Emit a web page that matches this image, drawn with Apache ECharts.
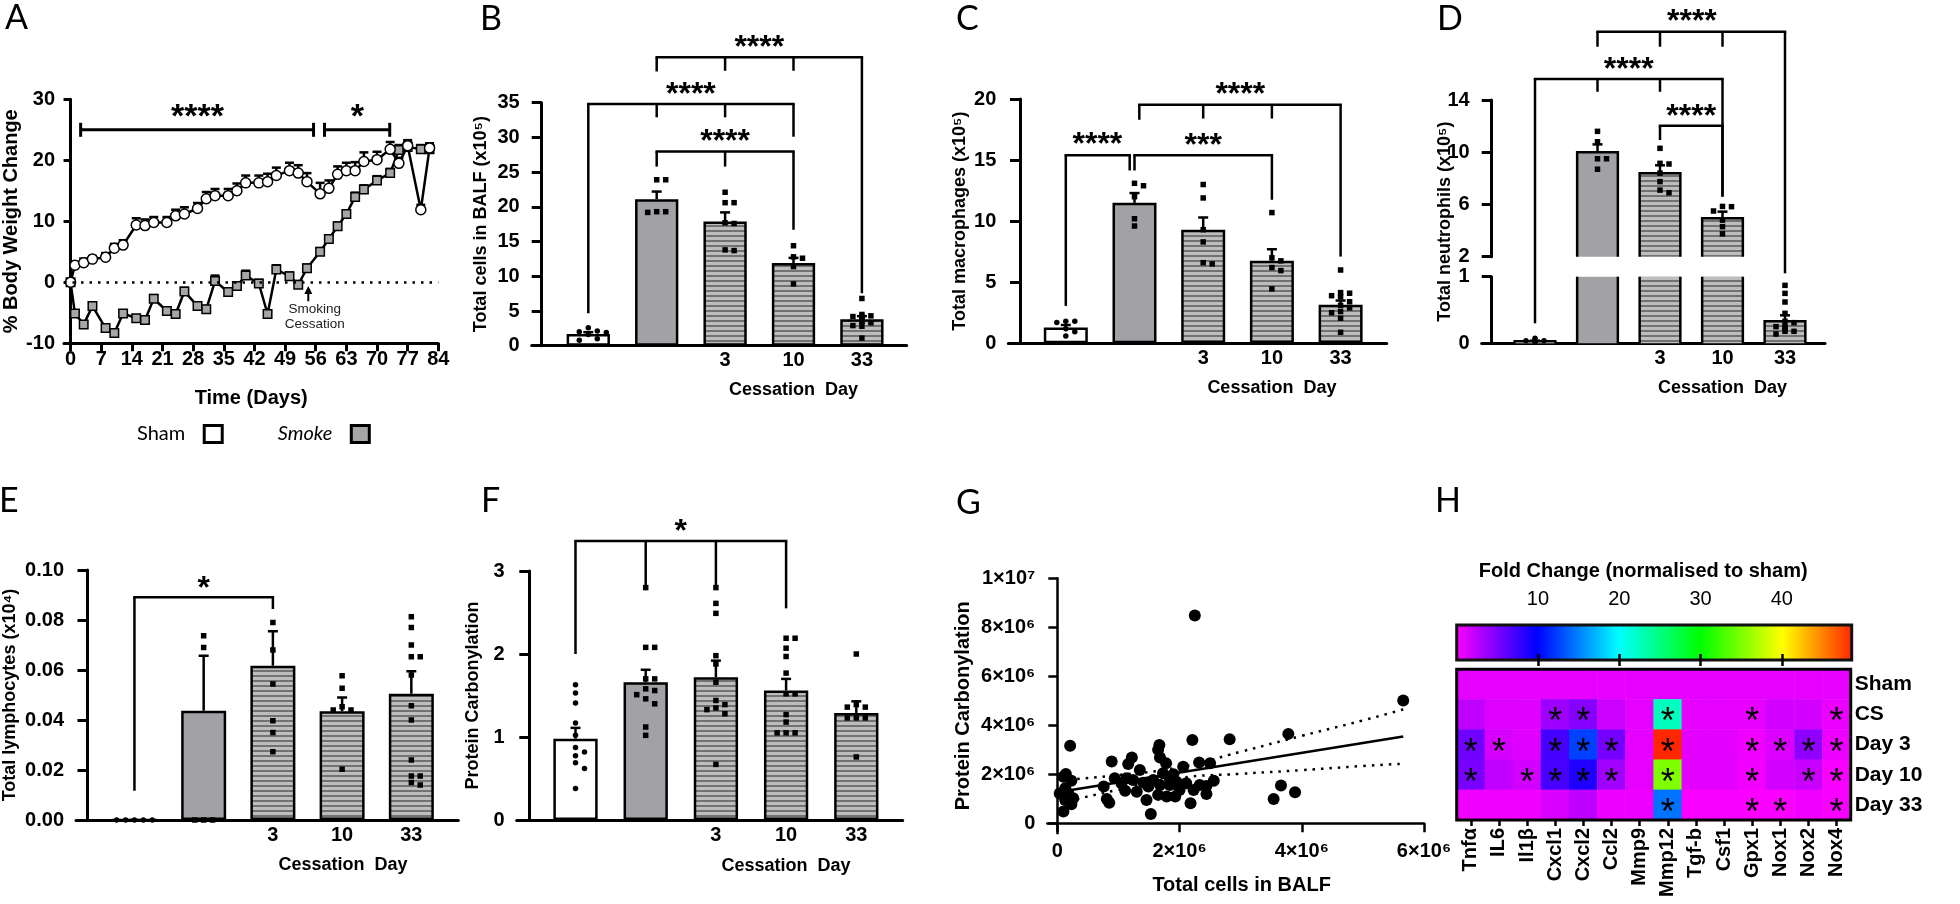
<!DOCTYPE html>
<html><head><meta charset="utf-8">
<script src="https://cdn.jsdelivr.net/npm/echarts@6/dist/echarts.min.js"></script>
<style>html,body{margin:0;padding:0;background:#fff}#main{width:1960px;height:904px}</style>
</head><body><div id="main"></div>
<script>
// ================= DATA =================
// Panel A : body weight change
const weightDays = [0,1,3,5,8,10,12,15,17,19,22,24,26,29,31,33,36,38,40,43,45,47,50,52,54,57,59,61,63,65,67,70,73,75,77,80,82];
const shamWeight = [0,2.8,3.2,3.8,4.1,5.6,6.1,9.4,9.3,9.8,9.8,10.9,11.2,12.1,13.7,14.2,14.2,15.0,16.3,16.3,16.5,17.5,18.3,17.9,16.5,14.5,15.4,17.7,18.3,18.3,19.8,20.1,21.8,19.5,22.4,11.9,22.0];
const shamWeightSem = [0,0.3,0.7,0.5,0.7,0.7,0.8,1.1,1.0,0.9,0.9,1.0,1.1,0.9,1.1,1.1,1.1,1.2,1.2,1.2,1.3,1.3,1.3,1.3,1.4,1.8,1.3,1.3,1.3,1.4,1.5,1.3,1.2,0.9,0.9,0.8,0.8];
const smokeWeight = [0,-5.1,-6.9,-3.9,-7.5,-8.3,-5.1,-5.9,-6.2,-2.7,-4.7,-5.2,-1.5,-3.9,-4.4,0.2,-1.6,-0.6,1.1,-0.2,-5.2,2.1,1.0,-0.4,2.3,5.0,7.1,9.2,11.2,14.0,15.2,16.7,17.9,21.7,22.2,21.8,21.8];
const smokeWeightSem = [0,0.4,0.4,0.5,0.4,0.4,0.5,0.5,0.5,0.6,0.5,0.5,0.6,0.5,0.5,0.9,0.6,0.6,0.8,0.6,0.5,0.7,0.6,0.6,0.6,0.6,0.6,0.6,0.6,0.7,0.7,0.7,0.7,0.8,0.8,0.7,0.7];
const dayTicks = [0,7,14,21,28,35,42,49,56,63,70,77,84];

// group labels (Sham, Smoke, cessation day 3, 10, 33)
const groupLabels = ['', '', '3', '10', '33'];

// Panel B : total cells in BALF (x10^5)
const bMeans = [1.7, 21.1, 17.9, 11.9, 3.8];
const bSem = [0.25, 1.1, 1.3, 0.75, 0.45];
const bSham = [2.6, 2.1, 2.0, 1.9, 1.6, 0.8, 1.0];
const bSmoke = [23.9, 23.9, 19.3, 19.3, 19.2];
const bDay3 = [22.1, 20.6, 20.6, 17.7, 17.6, 13.8, 13.7];
const bDay10 = [14.4, 12.8, 12.6, 11.4, 8.9];
const bDay33 = [6.8, 4.3, 4.2, 4.2, 4.1, 4.5, 3.6, 3.5, 3.3, 2.9, 2.8, 1.1];

// Panel C : total macrophages (x10^5)
const cMeans = [1.3, 11.5, 9.3, 6.75, 3.15];
const cSem = [0.2, 0.8, 1.0, 0.95, 0.35];
const cSham = [1.8, 1.8, 1.7, 1.2, 0.95, 0.6];
const cSmoke = [13.1, 12.9, 12.0, 10.2, 9.6];
const cDay3 = [13.0, 11.9, 9.3, 8.3, 6.5, 6.6];
const cDay10 = [10.7, 7.0, 6.75, 6.2, 5.95, 4.45];
const cDay33 = [6.0, 4.15, 4.1, 3.9, 3.8, 3.4, 3.1, 2.9, 2.5, 2.05, 0.9, 2.6];

// Panel D : total neutrophils (x10^5)
const dMeans = [0.03, 10.0, 8.4, 4.95, 0.33];
const dSem = [0.01, 0.6, 0.6, 0.5, 0.09];
const dSham = [0.075, 0.04, 0.04, 0.035, 0.03, 0.02];
const dSmoke = [11.6, 10.8, 9.5, 9.5, 8.7];
const dDay3 = [10.3, 9.15, 9.1, 8.4, 7.75, 7.1, 6.9];
const dDay10 = [5.85, 5.83, 5.5, 4.8, 4.3, 3.75];
const dDay33 = [0.87, 0.75, 0.62, 0.45, 0.33, 0.31, 0.25, 0.25, 0.22, 0.18, 0.18, 0.14];

// Panel E : total lymphocytes (x10^4)
const eMeans = [0, 0.0437, 0.0617, 0.0435, 0.0505];
const eSem = [0, 0.022, 0.0138, 0.0055, 0.009];
const eSham = [0, 0, 0, 0, 0];
const eSmoke = [0.0737, 0.069, 0, 0, 0];
const eDay3 = [0.079, 0.068, 0.0544, 0.0397, 0.035, 0.0273];
const eDay10 = [0.0577, 0.0527, 0.0453, 0.044, 0.044, 0.0203];
const eDay33 = [0.0813, 0.077, 0.07, 0.0653, 0.0653, 0.058, 0.0457, 0.04, 0.024, 0.0176, 0.0176, 0.015, 0.014];

// Panel F : protein carbonylation
const fMeans = [0.98, 1.66, 1.72, 1.56, 1.29];
const fSem = [0.13, 0.15, 0.2, 0.14, 0.14];
const fSham = [1.63, 1.53, 1.41, 1.17, 1.02, 0.875, 0.82, 0.775, 0.69, 0.62, 0.38];
const fSmoke = [2.8, 2.08, 2.08, 1.7, 1.7, 1.58, 1.56, 1.51, 1.46, 1.4, 1.12, 1.02];
const fDay3 = [2.8, 2.61, 2.49, 1.98, 1.88, 1.66, 1.44, 1.35, 1.39, 1.33, 1.28, 0.67];
const fDay10 = [2.19, 2.19, 2.07, 1.97, 1.77, 1.52, 1.52, 1.27, 1.18, 1.05, 1.05, 1.05];
const fDay33 = [2.0, 1.39, 1.36, 1.36, 1.23, 1.23, 1.23, 0.76];

// Panel G : correlation (values in millions)
const gCellsM = [2.25,5.66,3.78,2.82,2.21,1.67,0.21,1.65,1.22,0.89,1.16,1.68,1.78,2.32,2.50,2.06,1.35,0.14,1.73,1.90,0.94,1.13,2.56,0.23,0.10,1.57,1.95,2.11,1.41,1.68,1.84,2.33,2.44,0.76,1.49,1.11,1.30,0.13,3.66,0.04,2.44,1.65,1.79,1.93,0.26,0.13,0.81,0.85,1.46,3.89,3.54,2.18,0.23,0.10,1.53,0.18,1.24,1.84,1.05,2.23,2.00];
const gCarbonylM = [8.48,5.01,3.65,3.43,3.40,3.20,3.17,3.00,2.69,2.52,2.42,2.69,2.45,2.48,2.45,2.31,2.18,2.01,2.04,2.00,1.84,1.84,1.74,1.74,1.90,1.77,1.70,1.63,1.66,1.56,1.56,1.56,1.52,1.50,1.50,1.33,1.29,1.43,1.54,1.22,1.20,1.16,1.09,1.09,1.02,0.95,0.99,0.84,0.95,1.27,0.99,0.82,0.78,0.48,0.38,1.22,1.77,1.84,1.63,1.36,1.36];
const gFitXM = [0.05, 5.66];
const gFitYM = [1.29, 3.54];
const gBandXM = [0.05, 1, 2, 3, 4, 5, 5.66];
const gBandUpperM = [1.75, 1.97, 2.29, 2.92, 3.57, 4.20, 4.65];
const gBandLowerM = [0.83, 1.37, 1.85, 2.02, 2.17, 2.34, 2.43];
const gXTicks = [0, 2e6, 4e6, 6e6];
const gYTicks = [0, 2e6, 4e6, 6e6, 8e6, 1e7];

// Panel H : heatmap fold change
const hGenes = ['Tnfα','IL6','Il1β','Cxcl1','Cxcl2','Ccl2','Mmp9','Mmp12','Tgf-b','Csf1','Gpx1','Nox1','Nox2','Nox4'];
const hRows = ['Sham','CS','Day 3','Day 10','Day 33'];
const hSham  = [1,1,1,1,1,1,1,1,1,1,1,1,1,1];
const hCS    = [2.5,1.3,1.2,3.8,4.8,2.0,1.0,22.5,1.0,1.0,0.9,1.8,1.7,0.8];
const hDay3  = [5.6,1.6,1.2,7.3,12.5,5.4,1.0,48.5,1.1,1.1,0.6,1.4,4.4,0.7];
const hDay10 = [5.3,2.4,1.8,7.2,8.8,3.7,1.0,35,1.1,1.1,0.5,1.8,2.2,0.3];
const hDay33 = [0.6,0.6,0.5,1.5,2.6,0.7,0.7,14.5,0.2,0.3,0.2,0.2,0.6,0.3];
const hSigSham  = [0,0,0,0,0,0,0,0,0,0,0,0,0,0];
const hSigCS    = [0,0,0,1,1,0,0,1,0,0,1,0,0,1];
const hSigDay3  = [1,1,0,1,1,1,0,1,0,0,1,1,1,1];
const hSigDay10 = [1,0,1,1,1,1,0,1,0,0,1,0,1,1];
const hSigDay33 = [0,0,0,0,0,0,0,1,0,0,1,1,0,1];
const hColorTicks = [10, 20, 30, 40];

// ================= ANNOTATIONS (significance brackets, data units) =================
const aBrackets = [
  {from: 2.3, to: 55.5, y: 25.0, text: '****', tx: 29, ty: 28.3},
  {from: 58.0, to: 72.9, y: 25.0, text: '*', tx: 65.5, ty: 28.3}
];
const aArrow = {day: 54.3, from: -3.1, to: -0.6, text: 'Smoking\nCessation', tx: 55.8, ty: -5.7};
const bBrackets = [
  {y: 41.55, legs: [[1,39.5],[2,39.6],[3,39.6],[4,7.55]], text: '****', tx: 2.5, ty: 43.8},
  {y: 34.8, legs: [[0,4.67],[1,32.9],[2,32.9],[3,30.1]], text: '****', tx: 1.5, ty: 37.1},
  {y: 27.96, legs: [[1,25.8],[2,25.8],[3,16.7]], text: '****', tx: 2.0, ty: 30.4}
];
const cBrackets = [
  {y: 19.53, legs: [[1.07,18.3],[2,18.4],[3,18.4],[4,7.1]], text: '****', tx: 2.54, ty: 20.9},
  {y: 15.4, legs: [[0,3.06],[0.93,14.15]], text: '****', tx: 0.46, ty: 16.8},
  {y: 15.4, legs: [[1.0,14.15],[3,11.75]], text: '***', tx: 2.0, ty: 16.7}
];
const dBrackets = [
  {y: 19.23, legs: [[1,18.08],[2,18.08],[3,18.08],[4,0.73]], text: '****', tx: 2.51, ty: 20.5},
  {y: 15.6, legs: [[0,-3.1],[1,14.63],[2,14.63],[3,6.6]], text: '****', tx: 1.5, ty: 16.8},
  {y: 12.03, legs: [[2,10.93],[3,6.6]], text: '****', tx: 2.5, ty: 13.23}
];
const eBrackets = [{y: 0.0891, legs: [[0,0.0117],[2,0.0844]], text: '*', tx: 1.0, ty: 0.0953}];
const fBrackets = [{y: 3.36, legs: [[0,2.0],[1,2.83],[2,2.83],[3,2.55]], text: '*', tx: 1.5, ty: 3.55}];

// ================= STYLE HELPERS =================
const FONT = '"Liberation Sans", Arial, Helvetica, sans-serif';
const LFONT = 'Lato, "Open Sans", sans-serif';
const K = '#000';
function stripeImg() {
  const c = document.createElement('canvas'); c.width = 8; c.height = 5;
  const g = c.getContext('2d');
  g.fillStyle = '#bdbdbd'; g.fillRect(0, 0, 8, 5);
  g.fillStyle = '#727272'; g.fillRect(0, 0, 8, 2);
  return c;
}
const STRIPE = {image: stripeImg(), repeat: 'repeat'};
const FILLS = ['#ffffff', '#a2a2a6', STRIPE, STRIPE, STRIPE];
const tickFont = {color: K, fontFamily: FONT, fontWeight: 'bold', fontSize: 20};
const titleFont = {color: K, fontFamily: FONT, fontWeight: 'bold', fontSize: 18};

function line(x1, y1, x2, y2, w) {
  return {type: 'line', shape: {x1, y1, x2, y2}, style: {stroke: K, lineWidth: w, fill: 'none'}};
}
function starText(text, x, y, size, weight) {
  return {type: 'text', x: x, y: y + 0.22 * size,
    style: {text: text, fill: K, font: (weight || 'bold') + ' ' + size + 'px ' + FONT,
      textAlign: 'center', textVerticalAlign: 'middle'}};
}
function swarm(vals, ppu, maxOff) {
  const order = vals.map((v, i) => i).sort((a, b) => vals[b] - vals[a]);
  const placed = [], off = [];
  order.forEach(i => {
    const y = vals[i] * ppu;
    let chosen = 0;
    for (let k = 0; k < 15; k++) {
      const cand = (k === 0 ? 0 : (k % 2 ? 1 : -1) * Math.ceil(k / 2)) * 9;
      if (Math.abs(cand) > maxOff) continue;
      if (placed.every(p => Math.abs(p.x - cand) >= 8 || Math.abs(p.y - y) >= 6)) { chosen = cand; break; }
    }
    off[i] = chosen; placed.push({x: chosen, y});
  });
  return off;
}

const grids = [], xAxes = [], yAxes = [], series = [];

function errSeries(gi, data, cap) {
  return {type: 'custom', xAxisIndex: gi, yAxisIndex: gi, z: 5, silent: true, data: data,
    renderItem: (params, api) => {
      const a = api.coord([api.value(0), api.value(1)]);
      const b = api.coord([api.value(0), api.value(2)]);
      return {type: 'group', children: [line(a[0], a[1], b[0], b[1], 2.5), line(b[0] - cap, b[1], b[0] + cap, b[1], 2.5)]};
    }};
}
function bracketSeries(gi, brackets, pos0, size) {
  return {type: 'custom', xAxisIndex: gi, yAxisIndex: gi, z: 6, silent: true, clip: false,
    data: brackets.map(b => [pos0 + b.legs[0][0], b.y]),
    renderItem: (params, api) => {
      const b = brackets[params.dataIndex];
      const xs = b.legs.map(l => pos0 + l[0]);
      const yl = api.coord([xs[0], b.y])[1];
      const xMin = api.coord([Math.min(...xs), b.y])[0];
      const xMax = api.coord([Math.max(...xs), b.y])[0];
      const ch = [line(xMin - 1.25, yl, xMax + 1.25, yl, 2.5)];
      b.legs.forEach((l, k) => { const p = api.coord([xs[k], l[1]]); ch.push(line(p[0], yl, p[0], p[1], 2.5)); });
      const t = api.coord([pos0 + b.tx, b.ty]);
      ch.push(starText(b.text, t[0], t[1], size));
      return {type: 'group', children: ch};
    }};
}
function cessationXAxis(gi, c, pos, showLine) {
  const target = c.yAxisX + pos[3] * c.step;
  const mid = (c.xLeft + c.xRight) / 2;
  const shift = 2 * (target - mid);
  return {gridIndex: gi, type: 'value', min: (c.xLeft - c.yAxisX) / c.step, max: (c.xRight - c.yAxisX) / c.step,
    axisLine: {show: showLine, onZero: false, lineStyle: {color: K, width: 3}},
    axisTick: {show: false}, splitLine: {show: false},
    axisLabel: showLine ? Object.assign({customValues: pos.slice(2), formatter: v => groupLabels[Math.round(v - pos[0])], margin: 5}, tickFont) : {show: false},
    name: showLine ? 'Cessation  Day' : '', nameLocation: 'middle', nameGap: c.xNameGap,
    nameTextStyle: Object.assign({}, titleFont, {padding: shift > 0 ? [0, 0, 0, shift] : [0, -shift, 0, 0]})};
}
function valueYAxis(gi, c, name) {
  return {gridIndex: gi, type: 'value', min: c.yMin, max: c.yMax, interval: c.yInterval,
    axisLine: {show: true, onZero: true, lineStyle: {color: K, width: 3}},
    axisTick: {show: true, length: 10, lineStyle: {color: K, width: 3}},
    axisLabel: Object.assign({margin: 12, formatter: c.yFmt}, tickFont),
    splitLine: {show: false},
    name: name || '', nameLocation: 'middle', nameRotate: 90, nameGap: c.yNameGap, nameTextStyle: titleFont};
}

// ================= BAR PANELS (B, C, E, F) =================
function barPanel(c) {
  const gi = grids.length;
  const pos0 = (c.bar0 - c.yAxisX) / c.step;
  const pos = c.means.map((m, i) => pos0 + i);
  const ppu = (c.yBottom - c.yTop) / (c.yMax - c.yMin);
  grids.push({left: c.xLeft, top: c.yTop, width: c.xRight - c.xLeft, height: c.yBottom - c.yTop});
  xAxes.push(cessationXAxis(gi, c, pos, true));
  yAxes.push(valueYAxis(gi, c, c.yName));
  series.push({type: 'bar', xAxisIndex: gi, yAxisIndex: gi, barWidth: c.barWidth, silent: true, z: 2,
    data: pos.map((p, i) => ({value: [p, c.means[i]], itemStyle: {color: FILLS[i]}})),
    itemStyle: {borderColor: K, borderWidth: 2.5}});
  const pts = [];
  c.points.forEach((vals, i) => {
    const off = swarm(vals, ppu, c.barWidth / 2 - (i === 0 ? 2 : 5));
    vals.forEach((v, k) => pts.push({value: [pos[i] + off[k] / c.step, v], symbol: i === 0 ? 'circle' : 'rect'}));
  });
  series.push({type: 'scatter', xAxisIndex: gi, yAxisIndex: gi, data: pts, symbolSize: 5.5, itemStyle: {color: K, opacity: 1}, z: 4, silent: true});
  series.push(errSeries(gi, pos.map((p, i) => [p, c.means[i], c.means[i] + c.sems[i]]), 5));
  series.push(bracketSeries(gi, c.brackets, pos0, 32));
}

// ================= PANEL A =================
(function panelA() {
  const gi = grids.length;
  const px0 = 68.3, pxPerDay = 4.405, xl = 61.7;
  grids.push({left: xl, top: 99.3, width: px0 + 84 * pxPerDay - xl, height: 244});
  xAxes.push({gridIndex: gi, type: 'value', min: -(px0 - xl) / pxPerDay, max: 84,
    axisLine: {onZero: false, lineStyle: {color: K, width: 3}},
    axisTick: {show: true, customValues: dayTicks, length: 8, lineStyle: {color: K, width: 3}},
    axisLabel: Object.assign({customValues: dayTicks, margin: 6}, tickFont),
    splitLine: {show: false},
    name: 'Time (Days)', nameLocation: 'middle', nameGap: 45, nameTextStyle: Object.assign({}, titleFont, {fontSize: 20})});
  yAxes.push({gridIndex: gi, type: 'value', min: -10, max: 30, interval: 10,
    axisLine: {show: true, onZero: true, lineStyle: {color: K, width: 3}},
    axisTick: {show: true, length: 7, lineStyle: {color: K, width: 3}},
    axisLabel: Object.assign({margin: 9}, tickFont),
    splitLine: {show: false},
    name: '% Body Weight Change', nameLocation: 'middle', nameRotate: 90, nameGap: 43,
    nameTextStyle: Object.assign({}, titleFont, {fontSize: 20})});
  const errData = [];
  weightDays.forEach((d, i) => {
    errData.push([d, shamWeight[i], shamWeight[i] + shamWeightSem[i]]);
    errData.push([d, smokeWeight[i], smokeWeight[i] + smokeWeightSem[i]]);
  });
  const es = errSeries(gi, errData, 4.5); es.z = 1;
  series.push(es);
  series.push({name: 'Smoke', type: 'line', xAxisIndex: gi, yAxisIndex: gi, silent: true, z: 2,
    data: weightDays.map((d, i) => [d, smokeWeight[i]]),
    symbol: 'rect', symbolSize: 8.5,
    itemStyle: {color: '#a6a6a6', borderColor: K, borderWidth: 1.5},
    lineStyle: {color: K, width: 2.5},
    markLine: {silent: true, symbol: 'none', label: {show: false},
      lineStyle: {color: K, type: [2.5, 6], width: 2.5}, data: [{yAxis: 0}]}});
  series.push({name: 'Sham', type: 'line', xAxisIndex: gi, yAxisIndex: gi, silent: true, z: 3,
    data: weightDays.map((d, i) => [d, shamWeight[i]]),
    symbol: 'circle', symbolSize: 10,
    itemStyle: {color: '#ffffff', borderColor: K, borderWidth: 1.5},
    lineStyle: {color: K, width: 2.5}});
  series.push({type: 'custom', xAxisIndex: gi, yAxisIndex: gi, z: 6, silent: true, clip: false,
    data: [[aArrow.day, aArrow.to]],
    renderItem: (params, api) => {
      const ch = [];
      aBrackets.forEach(b => {
        const l = api.coord([b.from, b.y]), r = api.coord([b.to, b.y]);
        ch.push(line(l[0], l[1], r[0], r[1], 3));
        ch.push(line(l[0], l[1] - 7, l[0], l[1] + 7, 3));
        ch.push(line(r[0], r[1] - 7, r[0], r[1] + 7, 3));
        const t = api.coord([b.tx, b.ty]);
        ch.push(starText(b.text, t[0], t[1], 34));
      });
      const a1 = api.coord([aArrow.day, aArrow.from]), a2 = api.coord([aArrow.day, aArrow.to]);
      ch.push(line(a1[0], a1[1], a2[0], a2[1] + 6, 2));
      ch.push({type: 'polygon', shape: {points: [[a2[0] - 4, a2[1] + 8], [a2[0] + 4, a2[1] + 8], [a2[0], a2[1]]]}, style: {fill: K}});
      const t = api.coord([aArrow.tx, aArrow.ty]);
      ch.push({type: 'text', x: t[0], y: t[1], style: {text: aArrow.text, fill: '#222', font: '13.5px ' + FONT,
        lineHeight: 15, textAlign: 'center', textVerticalAlign: 'middle'}});
      return {type: 'group', children: ch};
    }});
})();

// ================= PANELS B, C =================
barPanel({yAxisX: 541.7, xLeft: 531.7, xRight: 906.7, yTop: 102.7, yBottom: 345.7, yMin: 0, yMax: 35, yInterval: 5,
  bar0: 588.3, step: 68.4, barWidth: 43.3, means: bMeans, sems: bSem, points: [bSham, bSmoke, bDay3, bDay10, bDay33],
  yName: 'Total cells in BALF (x10⁵)', yNameGap: 42, xNameGap: 35, brackets: bBrackets});
barPanel({yAxisX: 1020, xLeft: 1008.3, xRight: 1386.7, yTop: 99, yBottom: 343.3, yMin: 0, yMax: 20, yInterval: 5,
  bar0: 1065.8, step: 68.7, barWidth: 44, means: cMeans, sems: cSem, points: [cSham, cSmoke, cDay3, cDay10, cDay33],
  yName: 'Total macrophages (x10⁵)', yNameGap: 39, xNameGap: 36, brackets: cBrackets});

// ================= PANEL D (broken axis) =================
(function panelD() {
  const c = {yAxisX: 1491.7, xLeft: 1481.7, xRight: 1825, bar0: 1535, step: 62.5, xNameGap: 36};
  const bw = 40.7;
  const pos0 = (c.bar0 - c.yAxisX) / c.step;
  const pos = dMeans.map((m, i) => pos0 + i);
  const pts = [dSham, dSmoke, dDay3, dDay10, dDay33];
  const parts = [
    {top: 100, bottom: 256.7, yMin: 2, yMax: 14, yInterval: 4, bars: [1, 2, 3], pts: [1, 2, 3]},
    {top: 276.7, bottom: 343.3, yMin: 0, yMax: 1, yInterval: 1, bars: [0, 1, 2, 3, 4], pts: [0, 4]}
  ];
  let upperGi = 0;
  parts.forEach((pt, k) => {
    const gi = grids.length;
    if (k === 0) upperGi = gi;
    grids.push({left: c.xLeft, top: pt.top, width: c.xRight - c.xLeft, height: pt.bottom - pt.top});
    xAxes.push(cessationXAxis(gi, c, pos, k === 1));
    yAxes.push(valueYAxis(gi, {yMin: pt.yMin, yMax: pt.yMax, yInterval: pt.yInterval}, ''));
    series.push({type: 'custom', xAxisIndex: gi, yAxisIndex: gi, z: 2, silent: true,
      data: pt.bars.map(i => [pos[i], dMeans[i], i]),
      renderItem: (params, api) => {
        const x = api.value(0), v = api.value(1), i = api.value(2);
        const top = Math.min(v, pt.yMax);
        const b = api.coord([x, pt.yMin]), t = api.coord([x, top]);
        const l = b[0] - bw / 2, r = b[0] + bw / 2;
        const ch = [{type: 'rect', shape: {x: l, y: t[1], width: bw, height: b[1] - t[1]}, style: {fill: FILLS[i], stroke: 'none'}}];
        if (v <= pt.yMax) ch.push({type: 'polyline', shape: {points: [[l, b[1]], [l, t[1]], [r, t[1]], [r, b[1]]]}, style: {stroke: K, lineWidth: 2.5, fill: 'none'}});
        else { ch.push(line(l, b[1], l, t[1], 2.5)); ch.push(line(r, b[1], r, t[1], 2.5)); }
        return {type: 'group', children: ch};
      }});
    const ppu = (pt.bottom - pt.top) / (pt.yMax - pt.yMin);
    const sdata = [];
    pt.pts.forEach(i => {
      const off = swarm(pts[i], ppu, bw / 2 - 5);
      pts[i].forEach((v, kk) => sdata.push({value: [pos[i] + off[kk] / c.step, v], symbol: i === 0 ? 'circle' : 'rect'}));
    });
    series.push({type: 'scatter', xAxisIndex: gi, yAxisIndex: gi, data: sdata, symbolSize: 5.5, itemStyle: {color: K, opacity: 1}, z: 4, silent: true});
    series.push(errSeries(gi, pt.pts.map(i => [pos[i], dMeans[i], dMeans[i] + dSem[i]]), 5));
  });
  series.push(bracketSeries(upperGi, dBrackets, pos0, 32));
  // y-axis title spanning both parts
  const gi = grids.length;
  grids.push({left: c.yAxisX, top: 100, width: c.xRight - c.yAxisX, height: 243.3});
  xAxes.push({gridIndex: gi, type: 'value', min: 0, max: 1, show: false});
  yAxes.push({gridIndex: gi, type: 'value', min: 0, max: 1, axisLine: {show: false, onZero: false}, axisTick: {show: false},
    axisLabel: {show: false}, splitLine: {show: false},
    name: 'Total neutrophils (x10⁵)', nameLocation: 'middle', nameRotate: 90, nameGap: 38, nameTextStyle: titleFont});
})();

// ================= PANELS E, F =================
barPanel({yAxisX: 83.3, xLeft: 71.7, xRight: 458.3, yTop: 570, yBottom: 820, yMin: 0, yMax: 0.1, yInterval: 0.02,
  bar0: 130.8, step: 70, barWidth: 45, means: eMeans, sems: eSem, points: [eSham, eSmoke, eDay3, eDay10, eDay33],
  yName: 'Total lymphocytes (x10⁴)', yNameGap: 57, xNameGap: 36, brackets: eBrackets, yFmt: v => v.toFixed(2)});
barPanel({yAxisX: 529.3, xLeft: 516.7, xRight: 902.7, yTop: 571, yBottom: 820, yMin: 0, yMax: 3, yInterval: 1,
  bar0: 575.5, step: 70.2, barWidth: 44.3, means: fMeans, sems: fSem, points: [fSham, fSmoke, fDay3, fDay10, fDay33],
  yName: 'Protein Carbonylation', yNameGap: 35, xNameGap: 37, brackets: fBrackets});

// ================= PANEL G =================
(function panelG() {
  const gi = grids.length;
  const ax = 1057.3, ay = 823.3, xr = 1424, yt = 578.3, xl = 1047.3, yb = 833.3;
  const pxX = (xr - ax) / 6e6, pxY = (ay - yt) / 1e7;
  const SUP = {6: '⁶', 7: '⁷'};
  const sci = v => { if (v === 0) return '0'; const e = Math.floor(Math.log10(v) + 1e-9); return Math.round(v / Math.pow(10, e)) + '×10' + SUP[e]; };
  grids.push({left: xl, top: yt, width: xr - xl, height: yb - yt});
  xAxes.push({gridIndex: gi, type: 'value', min: -(ax - xl) / pxX, max: 6e6,
    axisLine: {onZero: true, lineStyle: {color: K, width: 2.5}},
    axisTick: {show: true, customValues: gXTicks, length: 9, lineStyle: {color: K, width: 2.5}},
    axisLabel: Object.assign({customValues: gXTicks, formatter: sci, margin: 8}, tickFont),
    splitLine: {show: false},
    name: 'Total cells in BALF', nameLocation: 'middle', nameGap: 42,
    nameTextStyle: Object.assign({}, titleFont, {fontSize: 20, padding: [0, 0, 0, 12]})});
  yAxes.push({gridIndex: gi, type: 'value', min: -(yb - ay) / pxY, max: 1e7,
    axisLine: {show: true, onZero: true, lineStyle: {color: K, width: 2.5}},
    axisTick: {show: true, customValues: gYTicks, length: 9, lineStyle: {color: K, width: 2.5}},
    axisLabel: Object.assign({customValues: gYTicks, formatter: sci, margin: 12}, tickFont),
    splitLine: {show: false},
    name: 'Protein Carbonylation', nameLocation: 'middle', nameRotate: 90, nameGap: 74,
    nameTextStyle: Object.assign({}, titleFont, {fontSize: 20})});
  series.push({type: 'line', xAxisIndex: gi, yAxisIndex: gi, silent: true, symbol: 'none', smooth: true, z: 3,
    data: gBandXM.map((x, i) => [x * 1e6, gBandUpperM[i] * 1e6]), lineStyle: {color: K, width: 2.5, type: [2.5, 6]}});
  series.push({type: 'line', xAxisIndex: gi, yAxisIndex: gi, silent: true, symbol: 'none', smooth: true, z: 3,
    data: gBandXM.map((x, i) => [x * 1e6, gBandLowerM[i] * 1e6]), lineStyle: {color: K, width: 2.5, type: [2.5, 6]}});
  series.push({type: 'line', xAxisIndex: gi, yAxisIndex: gi, silent: true, symbol: 'none', z: 3,
    data: gFitXM.map((x, i) => [x * 1e6, gFitYM[i] * 1e6]), lineStyle: {color: K, width: 2.5}});
  series.push({type: 'scatter', xAxisIndex: gi, yAxisIndex: gi, silent: true, symbolSize: 12, z: 4,
    data: gCellsM.map((x, i) => [x * 1e6, gCarbonylM[i] * 1e6]), itemStyle: {color: K, opacity: 1}});
})();

// ================= PANEL H =================
const HMAX = 50;
const hColors = ['#ff00ff', '#0000ff', '#00ffff', '#00ff00', '#ffff00', '#ff0000'];
let heatIdx = 0;
(function panelH() {
  // colour bar
  const cbMax = 48.6;
  const gc = grids.length;
  const stops = hColors.map((col, i) => ({offset: Math.min(1, (i * 10) / cbMax), color: col}));
  stops[5] = {offset: 1, color: '#ff2400'};
  grids.push({left: 1456.7, top: 625, width: 395, height: 35, show: true, borderColor: '#111', borderWidth: 3,
    backgroundColor: {type: 'linear', x: 0, y: 0, x2: 1, y2: 0, colorStops: stops}});
  xAxes.push({gridIndex: gc, type: 'value', position: 'top', min: 0, max: cbMax, z: 5,
    axisLine: {show: false}, splitLine: {show: false},
    axisTick: {show: true, inside: true, length: 6, customValues: hColorTicks, lineStyle: {color: K, width: 2.5}},
    axisLabel: {customValues: hColorTicks, color: K, fontFamily: FONT, fontSize: 20, margin: 16},
    name: 'Fold Change (normalised to sham)', nameLocation: 'middle', nameGap: 44,
    nameTextStyle: Object.assign({}, titleFont, {fontSize: 20, padding: [0, 22, 0, 0]})});
  yAxes.push({gridIndex: gc, type: 'value', min: 0, max: 1, show: false});
  const gc2 = grids.length;
  grids.push({left: 1456.7, top: 625, width: 395, height: 35});
  xAxes.push({gridIndex: gc2, type: 'value', position: 'bottom', min: 0, max: cbMax, z: 5,
    axisLine: {show: false}, splitLine: {show: false},
    axisTick: {show: true, inside: true, length: 6, customValues: hColorTicks, lineStyle: {color: K, width: 2.5}},
    axisLabel: {show: false}});
  yAxes.push({gridIndex: gc2, type: 'value', min: 0, max: 1, show: false});
  // heatmap
  const gh = grids.length;
  grids.push({left: 1456.7, top: 669.3, width: 394, height: 150.7, show: true, borderColor: K, borderWidth: 3,
    backgroundColor: 'transparent', z: 10});
  xAxes.push({gridIndex: gh, type: 'category', data: hGenes, position: 'bottom',
    axisLine: {show: false}, splitLine: {show: false},
    axisTick: {show: true, alignWithLabel: true, length: 6, lineStyle: {color: K, width: 2.5}},
    axisLabel: {rotate: 90, margin: 8, color: K, fontFamily: FONT, fontWeight: 'bold', fontSize: 20}});
  yAxes.push({gridIndex: gh, type: 'category', data: hRows, inverse: true, position: 'right',
    axisLine: {show: false}, axisTick: {show: false}, splitLine: {show: false},
    axisLabel: {margin: 4, color: K, fontFamily: FONT, fontWeight: 'bold', fontSize: 21}});
  const vals = [hSham, hCS, hDay3, hDay10, hDay33];
  const sig = [hSigSham, hSigCS, hSigDay3, hSigDay10, hSigDay33];
  const hm = [];
  vals.forEach((row, r) => row.forEach((v, c) => hm.push([c, r, v])));
  heatIdx = series.length;
  series.push({type: 'heatmap', xAxisIndex: gh, yAxisIndex: gh, data: hm, silent: true,
    emphasis: {disabled: true}, itemStyle: {borderWidth: 0},
    label: {show: true, formatter: p => (sig[p.value[1]][p.value[0]] ? '*' : ''), color: K,
      fontFamily: FONT, fontSize: 36, offset: [0, 9]}});
})();

// ================= PANEL LETTERS =================
const panelLetters = [['A', 5, 18.5], ['B', 480, 19.3], ['C', 956, 19.3], ['D', 1437, 19.3],
                      ['E', -1, 501.5], ['F', 481, 501.5], ['G', 956, 503.5], ['H', 1435, 501.5]];

const chart = echarts.init(document.getElementById('main'), null, {renderer: 'canvas'});
chart.setOption({
  animation: false,
  backgroundColor: '#ffffff',
  textStyle: {fontFamily: FONT},
  grid: grids,
  xAxis: xAxes,
  yAxis: yAxes,
  visualMap: {show: false, seriesIndex: heatIdx, dimension: 2, min: 0, max: HMAX, inRange: {color: hColors}},
  legend: {left: 132, top: 419, align: 'right', itemWidth: 18, itemHeight: 17, itemGap: 54, selectedMode: false,
    textStyle: {fontFamily: LFONT, fontSize: 20, color: K, padding: [0, 14, 0, 0]},
    data: [
      {name: 'Sham', icon: 'rect', itemStyle: {color: '#ffffff', borderColor: K, borderWidth: 3}},
      {name: 'Smoke', icon: 'rect', itemStyle: {color: '#a6a6a6', borderColor: K, borderWidth: 3}, textStyle: {fontStyle: 'italic'}}
    ]},
  graphic: panelLetters.map(([t, x, y]) => ({type: 'text', x: x, y: y, silent: true,
    style: {text: t, font: '34px ' + LFONT, fill: K, textAlign: 'left', textVerticalAlign: 'middle'}})),
  series: series
});
</script>
</body></html>
